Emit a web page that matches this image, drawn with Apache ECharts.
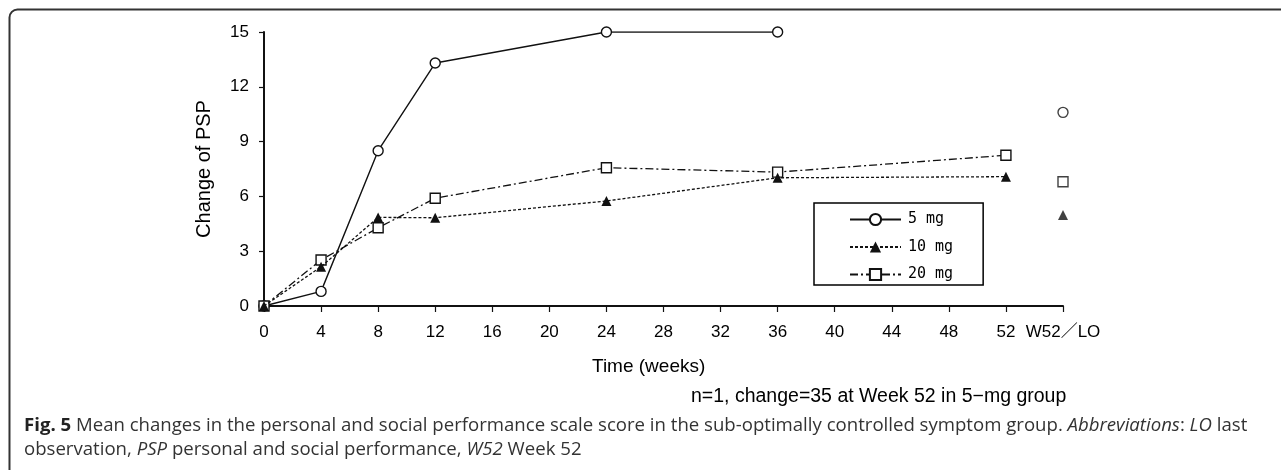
<!DOCTYPE html>
<html>
<head>
<meta charset="utf-8">
<script src="https://cdn.jsdelivr.net/npm/echarts@6/dist/echarts.min.js"></script>
<style>
html,body{margin:0;padding:0;background:#fff;}
#chart{width:1281px;height:470px;}
</style>
</head>
<body>
<div id="chart"></div>
<script>
// ---- data ----
const weeks = [0, 4, 8, 12, 24, 36, 52];
const mg5 = [0, 0.8, 8.5, 13.3, 15, 15, null];
const mg10 = [0, 2.15, 4.85, 4.83, 5.75, 7.02, 7.08];
const mg20 = [0, 2.52, 4.28, 5.9, 7.57, 7.33, 8.25];
const seriesNames = ['5 mg', '10 mg', '20 mg'];
const loValues = [10.6, 4.98, 6.8];          // W52/LO values for 5, 10, 20 mg
const loSlot = 56;                             // W52/LO tick position on the week axis
const xTickLabels = ['0','4','8','12','16','20','24','28','32','36','40','44','48','52','W52／LO'];
const yTicks = [0, 3, 6, 9, 12, 15];
const yTitle = 'Change of PSP';
const xTitle = 'Time (weeks)';
const note = 'n=1, change=35 at Week 52 in 5\u2212mg group';

const pairs = (vals) => weeks.map((w, i) => [w, vals[i]]).filter(p => p[1] !== null);

const chart = echarts.init(document.getElementById('chart'), null, {renderer: 'canvas'});
const ink = '#111';
const lineStyles = [
  {color: ink, width: 1.4, type: 'solid'},
  {color: ink, width: 1.3, type: [3, 2]},
  {color: ink, width: 1.3, type: [8, 3, 2, 3]}
];
const symbols = [
  {symbol: 'circle', symbolSize: 10, itemStyle: {color: '#fff', borderColor: ink, borderWidth: 1.4}},
  {symbol: 'triangle', symbolSize: 10, itemStyle: {color: ink, borderColor: ink, borderWidth: 0}},
  {symbol: 'rect', symbolSize: 10, itemStyle: {color: '#fff', borderColor: ink, borderWidth: 1.4}}
];
const dataSets = [mg5, mg10, mg20];
const zOrder = [3, 5, 4];

const series = [];
dataSets.forEach((d, i) => {
  series.push(Object.assign({
    name: seriesNames[i], type: 'line', data: pairs(d),
    lineStyle: lineStyles[i], showSymbol: true, animation: false, z: zOrder[i]
  }, symbols[i]));
});
dataSets.forEach((d, i) => {
  series.push(Object.assign({
    name: seriesNames[i] + ' LO', type: 'scatter', data: [[loSlot, loValues[i]]],
    animation: false, z: 3
  }, symbols[i]));
});

const captionText =
  '{b|Fig. 5} Mean changes in the personal and social performance scale score in the sub-optimally controlled symptom group. {i|Abbreviations}: {i|LO} last\n' +
  'observation, {i|PSP} personal and social performance, {i|W52} Week 52';

chart.setOption({
  animation: false,
  grid: {left: 264, right: 218, top: 32, bottom: 164, containLabel: false},
  xAxis: {
    type: 'value', min: 0, max: 56, interval: 4,
    axisLine: {lineStyle: {color: ink, width: 2}},
    axisTick: {show: true, length: 6, lineStyle: {color: ink, width: 1.2}},
    splitLine: {show: false},
    axisLabel: {
      margin: 18, color: '#000', fontSize: 17, fontFamily: 'Liberation Sans, Noto Sans CJK JP',
      formatter: v => xTickLabels[Math.round(v / 4)] || ''
    }
  },
  yAxis: {
    type: 'value', min: 0, max: 15, interval: 3,
    name: yTitle, nameLocation: 'middle', nameGap: 50, nameRotate: 90,
    nameTextStyle: {color: '#000', fontSize: 20, fontFamily: 'Liberation Sans'},
    axisLine: {show: true, lineStyle: {color: ink, width: 2}},
    axisTick: {show: true, length: 5, lineStyle: {color: ink, width: 1.2}},
    splitLine: {show: false},
    axisLabel: {margin: 15, color: '#000', fontSize: 17, fontFamily: 'Liberation Sans',
      formatter: v => yTicks.includes(v) ? String(v) : ''}
  },
  legend: {
    data: seriesNames,
    orient: 'vertical', left: 814, top: 203,
    borderColor: '#000', borderWidth: 1.5, borderRadius: 0,
    padding: [9, 30, 3, 35],
    itemWidth: 51, itemHeight: 14, itemGap: 12.5,
    textStyle: {color: '#000', fontSize: 15, fontFamily: 'DejaVu Sans Mono', padding: [0, 0, 0, 2]},
    selectedMode: false
  },
  series: series,
  graphic: [
    {type: 'rect', silent: true, z: 100,
     shape: {x: 9.5, y: 9.5, width: 1400, height: 470, r: 8},
     style: {fill: 'none', stroke: '#333', lineWidth: 2}},
    {type: 'text', left: 592, top: 357, silent: true,
     style: {text: xTitle, fill: '#000', font: '19px "Liberation Sans"'}},
    {type: 'text', left: 691, top: 387, silent: true,
     style: {text: note, fill: '#000', font: '19.5px "Liberation Sans"'}},
    {type: 'text', left: 24, top: 414, silent: true,
     style: {
       text: captionText, fill: '#333', fontSize: 18.6, fontFamily: 'Open Sans', lineHeight: 24,
       rich: {
         b: {fontWeight: 'bold', fill: '#222', fontSize: 18.6, fontFamily: 'Open Sans', lineHeight: 24},
         i: {fontStyle: 'italic', fill: '#333', fontSize: 18.6, fontFamily: 'Open Sans', lineHeight: 24}
       }
     }}
  ]
});
</script>
</body>
</html>
